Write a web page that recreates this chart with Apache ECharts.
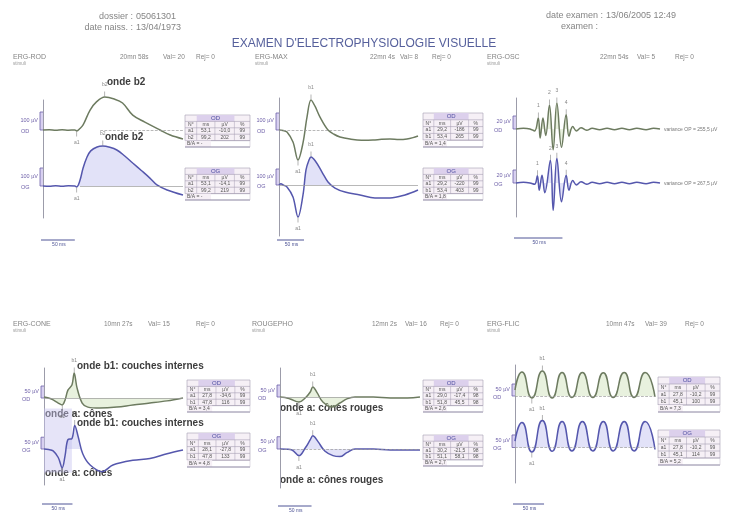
<!DOCTYPE html>
<html><head><meta charset="utf-8">
<script src="https://cdn.jsdelivr.net/npm/echarts@6/dist/echarts.min.js"></script>
<style>html,body{margin:0;padding:0;background:#fff}#c{width:732px;height:515px}</style>
</head><body><div id="c"></div>
<script>
// ===================== DATA (time ms, amplitude µV) =====================
const rodOD = [[0,0],[10,2],[20,-2],[30,1],[40,-1],[50,0],[53,-5],[58,8],[63,28],[74,111],[84,156],[97,183],[112,172],[125,150],[141,83],[160,44],[184,0],[200,-28],[220,-50]];
const rodOG = [[0,0],[10,-2],[20,2],[30,-1],[40,1],[50,0],[53,-5],[58,30],[63,100],[69,160],[75,195],[85,217],[94,222],[105,215],[116,200],[128,168],[141,128],[155,85],[168,44],[179,6],[195,-22],[220,-50]];
const maxOD = [[0,0],[8,-3],[16,-12],[28,-71],[38,-176],[48,-76],[56,76],[64,176],[72,140],[82,76],[98,0],[110,-25],[122,-41],[142,-53],[165,-60],[188,-59],[205,-55],[222,-53],[240,-56],[256,-53],[268,-45],[278,-35]];
const maxOG = [[0,0],[4,8],[8,0],[16,-12],[28,-75],[38,-200],[48,-62],[54,94],[60,156],[64,175],[74,144],[86,81],[98,19],[112,-19],[132,-44],[162,-62],[192,-81],[222,-81],[252,-62],[278,-31]];
const oscOD = [[0,0],[8,1],[15,0],[20,-3],[24,17],[26,-14],[29,17],[32,-10],[36,37],[40,-32],[44,40],[49,-28],[54,22],[57,-11],[61,4],[65,-3],[70,2],[76,-2],[82,1],[90,-1],[98,1],[106,-1],[114,1],[122,-1],[130,1],[140,-1],[148,1],[155,0]];
const oscOG = [[0,0],[8,1],[15,0],[20,-2],[23,11],[25,-11],[28,12],[31,-15],[37,35],[40,-42],[44,38],[49,-29],[54,12],[57,-11],[61,4],[65,-3],[70,2],[76,-2],[82,1],[90,-1],[98,1],[106,-1],[114,1],[122,-1],[130,1],[140,-1],[148,1],[155,0]];
const coneOD = [[0,4],[8,0],[16,-8],[25,-21],[32,-29],[37,-8],[42,33],[49,54],[53,104],[58,42],[67,-21],[77,-38],[98,-42],[128,-38],[156,-29],[186,-21],[216,-12],[244,0]];
const coneOG = [[0,0],[8,-2],[16,-8],[25,-36],[32,-80],[37,-28],[42,40],[49,44],[54,100],[60,52],[68,-20],[81,-68],[102,-96],[121,-68],[156,-48],[186,-40],[216,-20],[244,-4]];
const rougeOD = [[0,0],[8,-2],[16,-8],[30,-21],[40,-4],[48,21],[52,42],[59,17],[68,-21],[83,-42],[95,-25],[106,-8],[119,0],[148,0],[175,-4],[202,-4],[222,0]];
const rougeOG = [[0,0],[10,-1],[19,-4],[30,-27],[40,4],[48,38],[52,54],[60,31],[71,-8],[84,-27],[95,-31],[106,-15],[119,0],[148,0],[175,-4],[222,-4]];
const flicOD = [[0,25],[12,100],[29,-8],[47,104],[64,-8],[81,98],[98,-6],[116,98],[134,-6],[152,97],[169,-6],[188,98],[205,-6],[224,98],[241,-4]];
const flicOG = [[0,25],[12,100],[29,-18],[47,108],[64,-15],[81,104],[98,-14],[116,104],[134,-14],[152,104],[169,-14],[188,104],[205,-14],[224,104],[241,-8]];

// markers: [name, ms, µV, side]
const rodMarksOD = [['a1',53,-5,'bottom'],['b2',97,183,'top']];
const rodMarksOG = [['a1',53,-5,'bottom'],['b2',94,222,'top']];
const maxMarksOD = [['a1',38,-176,'bottom'],['b1',64,176,'top']];
const maxMarksOG = [['a1',38,-200,'bottom'],['b1',64,175,'top']];
const coneMarksOD = [['a1',32,-29,'bottom'],['b1',53,104,'top']];
const coneMarksOG = [['a1',32,-80,'bottom'],['b1',54,100,'top']];
const rougeMarksOD = [['a1',30,-21,'bottom'],['b1',52,42,'top']];
const rougeMarksOG = [['a1',30,-27,'bottom'],['b1',52,54,'top']];
const flicMarksOD = [['a1',29,-8,'bottom'],['b1',47,104,'top']];
const flicMarksOG = [['a1',29,-18,'bottom'],['b1',47,108,'top']];
const oscMarksOD = [['1',24,17,'top'],['2',36,37,'top'],['3',44,40,'top'],['4',54,22,'top']];
const oscMarksOG = [['1',23,11,'top'],['2',37,35,'top'],['3',44,38,'top'],['4',54,12,'top']];

// result tables: [wave, ms, µV, %]
const tabHead = ['N°','ms','µV','%'];
const rodTabOD = [['a1','53,1','-10,0','99'],['b2','99,2','202','99']];
const rodTabOG = [['a1','53,1','-14,1','99'],['b2','99,2','219','99']];
const maxTabOD = [['a1','29,2','-186','99'],['b1','53,4','265','99']];
const maxTabOG = [['a1','29,2','-220','99'],['b1','53,4','403','99']];
const coneTabOD = [['a1','27,8','-34,6','99'],['b1','47,8','116','99']];
const coneTabOG = [['a1','28,1','-27,8','99'],['b1','47,8','133','99']];
const rougeTabOD = [['a1','29,0','-17,4','98'],['b1','51,8','45,5','98']];
const rougeTabOG = [['a1','30,2','-21,5','98'],['b1','51,1','58,1','98']];
const flicTabOD = [['a1','27,8','-10,2','99'],['b1','45,1','100','99']];
const flicTabOG = [['a1','27,8','-10,2','99'],['b1','45,1','114','99']];
const baValues = {rod:['B/A = -','B/A = -'], max:['B/A = 1,4','B/A = 1,8'], cone:['B/A = 3,4','B/A = 4,8'], rouge:['B/A = 2,6','B/A = 2,7'], flic:['B/A = 7,3','B/A = 5,2']};
const oscVariance = ['variance OP = 255,5 µV','variance OP = 267,5 µV'];
const coneShadeOG = [[0,172],[49,-100]];

const headerLeft = [['dossier :','05061301'],['date naiss. :','13/04/1973']];
const headerRight = [['date examen :','13/06/2005 12:49'],['examen :','']];
const mainTitle = "EXAMEN D'ELECTROPHYSIOLOGIE VISUELLE";

// ===================== STYLE / LAYOUT =====================
const FONT = '"Liberation Sans", Arial, sans-serif';
const COL = {od:'#6d7b60', og:'#5557ad', odFill:'rgba(196,218,168,0.55)', ogFill:'rgba(186,186,238,0.6)', txt:'#858585', lab:'#3d3d3d', purple:'#6d5fa8'};

const panels = [
 {title:'ERG-ROD', time:'20mn 58s', val:'Val= 20', rej:'Rej= 0', scale:100, tabs:[rodTabOD,rodTabOG], ba:baValues.rod, smooth:0.35,
  traces:[{data:rodOD, marks:rodMarksOD, fill:'none', base:{type:'dashed',from:90,to:220}},
          {data:rodOG, marks:rodMarksOG, fill:'pos', base:{type:'solid',from:58,to:220}}],
  L:{ax:43, ex:183, top:100, bot:218, base:[130,186], k:[0.18,0.18], xMax:220, tx:13, ty:57, hx:[120,163,196], tab:[[185,115,65,32],[185,168,65,32]], barY:240},
  big:[['onde b2',107,82],['onde b2',105,137]]},
 {title:'ERG-MAX', time:'22mn 4s', val:'Val= 8', rej:'Rej= 0', scale:100, tabs:[maxTabOD,maxTabOG], ba:baValues.max, smooth:0.35,
  traces:[{data:maxOD, marks:maxMarksOD, fill:'none', base:{type:'dashed',from:0,to:130}},
          {data:maxOG, marks:maxMarksOG, fill:'pos', base:{type:'solid',from:0,to:278}}],
  L:{ax:279, ex:418, top:98, bot:236, base:[130,185], k:[0.17,0.16], xMax:278, tx:255, ty:57, hx:[370,400,432], tab:[[423,113,60,34],[423,168,60,32]], barY:240},
  big:[]},
 {title:'ERG-OSC', time:'22mn 54s', val:'Val= 5', rej:'Rej= 0', scale:20, tabs:null, smooth:0.4,
  traces:[{data:oscOD, marks:oscMarksOD, fill:'all'},
          {data:oscOG, marks:oscMarksOG, fill:'all'}],
  L:{ax:516, ex:660, top:98, bot:217, base:[129,183], k:[0.65,0.65], xMax:155, tx:487, ty:57, hx:[600,637,675], barY:238},
  big:[]},
 {title:'ERG-CONE', time:'10mn 27s', val:'Val= 15', rej:'Rej= 0', scale:50, tabs:[coneTabOD,coneTabOG], ba:baValues.cone, smooth:0.35,
  traces:[{data:coneOD, marks:coneMarksOD, fill:'all', base:{type:'solid',from:0,to:244}},
          {data:coneOG, marks:coneMarksOG, fill:'pos', shade:coneShadeOG}],
  L:{ax:44, ex:183, top:368, bot:485, base:[398,453], k:[0.24,0.25], xMax:244, tx:13, ty:324, hx:[104,148,196], tab:[[187,380,63,32],[187,433,63,34]], barY:504},
  big:[['onde b1: couches internes',77,366],['onde a: cônes',45,414],['onde b1: couches internes',77,423],['onde a: cônes',45,473]]},
 {title:'ROUGEPHO', time:'12mn 2s', val:'Val= 16', rej:'Rej= 0', scale:50, tabs:[rougeTabOD,rougeTabOG], ba:baValues.rouge, smooth:0.4,
  traces:[{data:rougeOD, marks:rougeMarksOD, fill:'all', base:{type:'solid',from:0,to:120}},
          {data:rougeOG, marks:rougeMarksOG, fill:'all', base:{type:'dashed',from:0,to:222}}],
  L:{ax:280, ex:420, top:368, bot:488, base:[397,453], k:[0.24,0.26], xMax:222, tx:252, ty:324, hx:[372,405,440], tab:[[423,380,60,32],[423,435,60,31]], barY:506},
  big:[['onde a: cônes rouges',280,408],['onde a: cônes rouges',280,480]]},
 {title:'ERG-FLIC', time:'10mn 47s', val:'Val= 39', rej:'Rej= 0', scale:50, tabs:[flicTabOD,flicTabOG], ba:baValues.flic, smooth:0.6,
  traces:[{data:flicOD, marks:flicMarksOD, fill:'pos', base:{type:'dashed',from:0,to:241}},
          {data:flicOG, marks:flicMarksOG, fill:'pos', base:{type:'dashed',from:0,to:241}}],
  L:{ax:515, ex:655, top:365, bot:483, base:[396,450], k:[0.24,0.26], xMax:241, tx:487, ty:324, hx:[606,645,685], tab:[[658,377,62,35],[658,430,62,35]], barY:504},
  big:[]}
];

// ===================== BUILD =====================
const chart = echarts.init(document.getElementById('c'));
const grid=[], xAxis=[], yAxis=[], series=[];
const H = 70;
panels.forEach(p=>{
  const L = p.L;
  const fi = grid.length;
  grid.push({left:L.ax, top:L.top, width:L.ex-L.ax, height:L.bot-L.top});
  xAxis.push({gridIndex:fi, type:'value', show:false, min:0, max:L.xMax});
  yAxis.push({gridIndex:fi, type:'value', min:0, max:1, axisLine:{show:true, lineStyle:{color:'#9c9caa', width:1}}, axisTick:{show:false}, axisLabel:{show:false}, splitLine:{show:false}});
  p.gi = [];
  p.traces.forEach((t,ti)=>{
    const gi = grid.length; p.gi.push(gi);
    const k = L.k[ti], b = L.base[ti];
    grid.push({left:L.ax, top:b-H, width:L.ex-L.ax, height:2*H});
    xAxis.push({gridIndex:gi, type:'value', show:false, min:0, max:L.xMax});
    yAxis.push({gridIndex:gi, type:'value', show:false, min:-H/k, max:H/k});
    if (t.fill !== 'none') {
      series.push({type:'line', xAxisIndex:gi, yAxisIndex:gi, silent:true, clip:false, smooth:p.smooth, symbol:'none', z:1,
        data: t.fill==='pos' ? t.data.map(d=>[d[0], Math.max(d[1],0)]) : t.data,
        lineStyle:{width:0, opacity:0}, areaStyle:{color: ti ? COL.ogFill : COL.odFill, origin:0}});
    }
    const s = {type:'line', xAxisIndex:gi, yAxisIndex:gi, silent:true, clip:false, smooth:p.smooth, symbol:'none', z:3,
      data:t.data, lineStyle:{color: ti ? COL.og : COL.od, width:1.5}};
    if (t.base) s.markLine = {silent:true, symbol:['none','none'], label:{show:false},
      lineStyle:{color:'#9a9a9a', type:t.base.type, width:0.7},
      data:[[{coord:[t.base.from,0]},{coord:[t.base.to,0]}]]};
    if (t.shade) s.markArea = {silent:true, itemStyle:{color:'rgba(200,196,240,0.45)'},
      data:[[{coord:t.shade[0]},{coord:t.shade[1]}]]};
    series.push(s);
    series.push({type:'scatter', xAxisIndex:gi, yAxisIndex:gi, silent:true, z:4, symbol:'rect', symbolSize:[0.7,5],
      itemStyle:{color:'#7a7a7a'},
      data: t.marks.map(m=>({name:m[0], value:[m[1],m[2]], symbolOffset:[0, m[3]==='top'?-3:3],
        label:{position:m[3], distance: 4}})),
      label:{show:true, formatter:'{b}', fontSize:5, color:'#666', fontFamily:FONT}});
  });
});

chart.setOption({animation:false, backgroundColor:'#ffffff', grid, xAxis, yAxis, series});

// ===================== ANNOTATIONS =====================
const g = [];
function txt(text, x, y, size, color, align, weight, va){
  g.push({type:'text', silent:true, x, y, style:{text, fill:color, font:(weight||'normal')+' '+size+'px '+FONT, textAlign:align||'left', textVerticalAlign:va||'middle'}});
}
function line(x1,y1,x2,y2,color,w){ g.push({type:'line', silent:true, shape:{x1,y1,x2,y2}, style:{stroke:color, lineWidth:w||0.6}}); }
function rect(x,y,w,h,fill,stroke,lw){ g.push({type:'rect', silent:true, shape:{x,y,width:w,height:h}, style:{fill:fill||'none', stroke:stroke||null, lineWidth:lw||0.6}}); }

// header
headerLeft.forEach((h,i)=>{ txt(h[0],133,17+i*11,9,COL.txt,'right'); txt(h[1],136,17+i*11,9,COL.txt,'left'); });
txt(headerRight[0][0],603,16,9,COL.txt,'right'); txt(headerRight[0][1],606,16,9,COL.txt,'left');
txt(headerRight[1][0],598,27,9,COL.txt,'right');
txt(mainTitle,364,44,12,'#56609c','center');

function table(x,y,w,h,eye,rows,ba){
  const rh = h/5, cw=[0.18,0.28,0.3,0.24].map(f=>f*w);
  rect(x,y,w,rh*4,'#f6f0f6','#a69eb4',0.6);
  rect(x+cw[0],y,cw[1]+cw[2],rh,'#dcd0ec',null);
  txt(eye, x+cw[0]+(cw[1]+cw[2])/2, y+rh/2, 6, '#4e4ea0','center');
  for (let r=1;r<=4;r++) line(x,y+rh*r,x+w,y+rh*r,'#a69eb4',0.6);
  let cx=x; const allRows=[tabHead].concat(rows);
  cw.forEach((c,ci)=>{
    if (ci>0) line(cx,y+rh,cx,y+rh*4,'#a69eb4',0.5);
    allRows.forEach((row,ri)=>txt(row[ci], cx+c/2, y+rh*(ri+1.5), 5, '#555','center'));
    cx+=c;
  });
  rect(x,y+rh*4,w*0.4,rh,'#f6f0f6',null);
  txt(ba, x+2, y+rh*4.5, 5, '#555','left');
  line(x,y+rh*5,x+w,y+rh*5,'#8a84a0',1);
  line(x+w,y+rh*4,x+w,y+rh*5,'#c0bac8',0.5);
}

panels.forEach((p,pi)=>{
  const L=p.L;
  txt(p.title, L.tx, L.ty, 7, COL.txt, 'left');
  txt('stimuli', L.tx, L.ty+7, 4.5, '#999', 'left');
  txt(p.time, L.hx[0], L.ty, 6.5, COL.txt, 'left');
  txt(p.val, L.hx[1], L.ty, 6.5, COL.txt, 'left');
  txt(p.rej, L.hx[2], L.ty, 6.5, COL.txt, 'left');
  p.gi.forEach((gi,ti)=>{
    const p0 = chart.convertToPixel({gridIndex:gi},[0,0]);
    const p1 = chart.convertToPixel({gridIndex:gi},[0,p.scale]);
    rect(L.ax-3, p1[1], 3, p0[1]-p1[1], 'rgba(190,176,230,0.6)', null);
    g.push({type:'polyline', silent:true, shape:{points:[[L.ax,p0[1]],[L.ax-3,p0[1]],[L.ax-3,p1[1]],[L.ax,p1[1]]]}, style:{stroke:COL.purple, lineWidth:0.8, fill:null}});
    txt(p.scale+' µV', L.ax-5, (p0[1]+p1[1])/2-1, 5.5, COL.purple, 'right');
    txt(ti?'OG':'OD', L.ax-22, p0[1]+1, 5.5, COL.purple, 'left');
    if (p.tabs) { const T=L.tab[ti]; table(T[0],T[1],T[2],T[3], ti?'OG':'OD', p.tabs[ti], p.ba[ti]); }
    else txt(oscVariance[ti], L.ex+4, p0[1]+1, 5, '#777', 'left');
  });
  // time scale bar
  const b0 = chart.convertToPixel({gridIndex:p.gi[0]},[0,0]);
  const b1 = chart.convertToPixel({gridIndex:p.gi[0]},[50,0]);
  line(b0[0]-2, L.barY, b1[0], L.barY, '#4f5596', 1);
  txt('50 ms', (b0[0]+b1[0])/2, L.barY+5, 5, '#4f5596', 'center');
  p.big.forEach(b=>txt(b[0], b[1], b[2], 10, COL.lab, 'left', 'bold'));
});

chart.setOption({graphic: g});
</script></body></html>
